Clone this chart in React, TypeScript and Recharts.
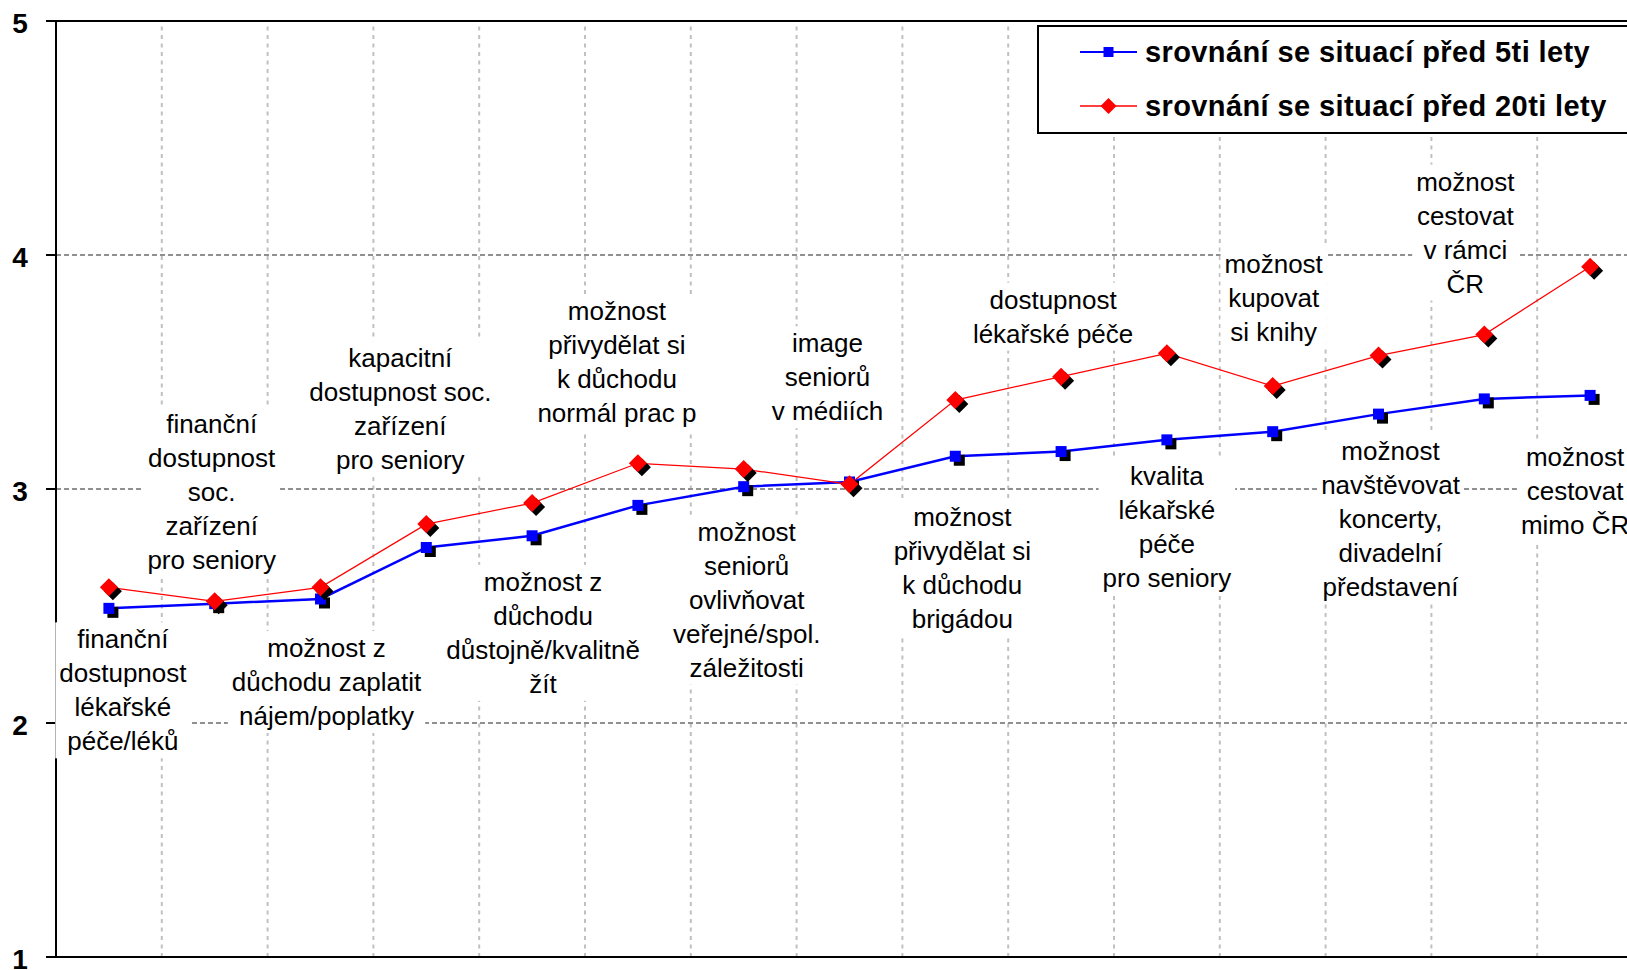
import React from 'react';
import { LineChart, Line, XAxis, YAxis, ReferenceLine, Legend, LabelList } from 'recharts';

// popisky kategorií (řádky textu)
const categories: string[][] = [
  ['finanční', 'dostupnost', 'lékařské', 'péče/léků'],
  ['finanční', 'dostupnost', 'soc.', 'zařízení', 'pro seniory'],
  ['možnost z', 'důchodu zaplatit', 'nájem/poplatky'],
  ['kapacitní', 'dostupnost soc.', 'zařízení', 'pro seniory'],
  ['možnost z', 'důchodu', 'důstojně/kvalitně', 'žít'],
  ['možnost', 'přivydělat si', 'k důchodu', 'normál prac p'],
  ['možnost', 'seniorů', 'ovlivňovat', 'veřejné/spol.', 'záležitosti'],
  ['image', 'seniorů', 'v médiích'],
  ['možnost', 'přivydělat si', 'k důchodu', 'brigádou'],
  ['dostupnost', 'lékařské péče'],
  ['kvalita', 'lékařské', 'péče', 'pro seniory'],
  ['možnost', 'kupovat', 'si knihy'],
  ['možnost', 'navštěvovat', 'koncerty,', 'divadelní', 'představení'],
  ['možnost', 'cestovat', 'v rámci', 'ČR'],
  ['možnost', 'cestovat', 'mimo ČR'],
];

const seriesNames = ['srovnání se situací před 5ti lety', 'srovnání se situací před 20ti lety'];

const before5 = [2.49, 2.51, 2.53, 2.75, 2.8, 2.93, 3.01, 3.03, 3.14, 3.16, 3.21, 3.245, 3.32, 3.385, 3.4];
const before20 = [2.58, 2.52, 2.58, 2.85, 2.94, 3.11, 3.085, 3.02, 3.38, 3.48, 3.58, 3.44, 3.57, 3.66, 3.95];

const yTicks = [1, 2, 3, 4, 5];
const yGrid = [2, 3, 4];

// umístění popisků vůči bodu (ručně posunuté jako v Excelu)
const labelPlacement: { side: 'above' | 'below'; dx: number; gap: number }[] = [
  { side: 'below', dx: 14, gap: 31 },
  { side: 'above', dx: -3, gap: 41 },
  { side: 'below', dx: 6, gap: 49 },
  { side: 'above', dx: -26, gap: 64 },
  { side: 'below', dx: 11, gap: 46 },
  { side: 'above', dx: -21, gap: 50 },
  { side: 'below', dx: 3, gap: 45 },
  { side: 'above', dx: -22, gap: 73 },
  { side: 'below', dx: 7, gap: 61 },
  { side: 'above', dx: -8, gap: 43 },
  { side: 'below', dx: 0, gap: 36 },
  { side: 'above', dx: 1, gap: 54 },
  { side: 'below', dx: 12, gap: 37 },
  { side: 'above', dx: -19, gap: 51 },
  { side: 'below', dx: -15, gap: 62 },
];

const FONT = "'Liberation Sans', Arial, sans-serif";
const LABEL_SIZE = 26;
const LINE_H = 34;

const data = categories.map((_, i) => ({
  pos: i + 0.5,
  idx: i,
  five: before5[i],
  twenty: before20[i],
}));

const boundaries = categories.slice(1).map((_, i) => i + 1);

let ctx: CanvasRenderingContext2D | null = null;
const measure = (t: string) => {
  if (!ctx) ctx = document.createElement('canvas').getContext('2d');
  if (!ctx) return t.length * 13;
  ctx.font = `${LABEL_SIZE}px ${FONT}`;
  return ctx.measureText(t).width;
};

const makeLabel = (side: 'above' | 'below') => (props: any) => {
  const i = Number(props.value);
  const place = labelPlacement[i];
  if (!place || place.side !== side) return null;
  const lines = categories[i];
  const n = lines.length;
  const cx = props.x + place.dx;
  const firstY = side === 'below' ? props.y + place.gap : props.y - place.gap - (n - 1) * LINE_H;
  const w = Math.max(...lines.map(measure)) + 8;
  return (
    <g key={`lab-${side}-${i}`}>
      <rect x={cx - w / 2} y={firstY - LINE_H / 2} width={w} height={n * LINE_H} fill="#fff" />
      {lines.map((t, k) => (
        <text
          key={k}
          x={cx}
          y={firstY + k * LINE_H}
          textAnchor="middle"
          dominantBaseline="central"
          fontFamily={FONT}
          fontSize={LABEL_SIZE}
          fill="#000"
        >
          {t}
        </text>
      ))}
    </g>
  );
};

const SquareDot = (props: any) => {
  const { cx, cy, index } = props;
  const s = 11;
  return (
    <g key={`sq-${index}`}>
      <rect x={cx - s / 2 + 4} y={cy - s / 2 + 4} width={s} height={s} fill="#000" />
      <rect x={cx - s / 2} y={cy - s / 2} width={s} height={s} fill="#0000ff" />
    </g>
  );
};

const diamond = (x: number, y: number, r: number) => `M${x},${y - r}L${x + r},${y}L${x},${y + r}L${x - r},${y}Z`;

const DiamondDot = (props: any) => {
  const { cx, cy, index } = props;
  return (
    <g key={`dm-${index}`}>
      <path d={diamond(cx + 4, cy + 4, 9)} fill="#000" />
      <path d={diamond(cx, cy, 9)} fill="#ff0000" />
    </g>
  );
};

const YTick = (props: any) => {
  const { y, payload } = props;
  return (
    <text x={20} y={y + 2} textAnchor="middle" dominantBaseline="central" fontFamily={FONT} fontWeight="bold" fontSize={28} fill="#000">
      {payload.value}
    </text>
  );
};

const LegendBox = () => (
  <div
    style={{
      width: 640,
      height: 109,
      border: '2px solid #000',
      boxSizing: 'border-box',
      background: '#fff',
      position: 'relative',
      fontFamily: FONT,
      fontWeight: 'bold',
      fontSize: 29,
      letterSpacing: 0.4,
      color: '#000',
    }}
  >
    {seriesNames.map((name, i) => (
      <div key={name} style={{ position: 'absolute', left: 41, top: 25 + i * 54 - 20, height: 40, display: 'flex', alignItems: 'center', whiteSpace: 'nowrap' }}>
        <svg width={64} height={24} style={{ display: 'block' }}>
          <line x1={0} y1={12} x2={57} y2={12} stroke={i === 0 ? '#0000ff' : '#ff0000'} strokeWidth={i === 0 ? 2 : 1.5} />
          {i === 0 ? <rect x={23.5} y={7} width={10} height={10} fill="#0000ff" /> : <path d={diamond(28.5, 12, 8)} fill="#ff0000" />}
        </svg>
        <span style={{ marginLeft: 1 }}>{name}</span>
      </div>
    ))}
  </div>
);

export default function App() {
  return (
    <div style={{ position: 'fixed', left: 0, top: 0, width: 1627, height: 970, overflow: 'hidden', background: '#fff' }}>
      <LineChart width={1660} height={970} data={data} margin={{ top: 21, right: 17, bottom: 13, left: 0 }}>
        <XAxis
          type="number"
          dataKey="pos"
          domain={[0, categories.length]}
          ticks={boundaries}
          tick={false}
          tickLine={false}
          height={0}
          axisLine={false}
        />
        <YAxis
          domain={[1, 5]}
          ticks={yTicks}
          width={56}
          tickSize={10}
          tickLine={{ stroke: '#000', strokeWidth: 2 }}
          axisLine={{ stroke: '#000', strokeWidth: 2 }}
          tick={<YTick />}
        />
        {boundaries.map((b) => (
          <ReferenceLine key={`vx-${b}`} x={b} stroke="#c0c0c0" strokeWidth={2} strokeDasharray="4 4.5" />
        ))}
        {yGrid.map((v) => (
          <ReferenceLine key={`hy-${v}`} y={v} stroke="#909090" strokeWidth={2} strokeDasharray="5 3" />
        ))}
        <ReferenceLine y={5} stroke="#000" strokeWidth={2} />
        <ReferenceLine y={1} stroke="#000" strokeWidth={2} />
        <Legend
          layout="vertical"
          align="center"
          verticalAlign="middle"
          wrapperStyle={{ top: 25, left: 1037, width: 640 }}
          content={<LegendBox />}
        />
        <Line
          type="linear"
          dataKey="five"
          name={seriesNames[0]}
          stroke="#0000ff"
          strokeWidth={2.5}
          dot={SquareDot}
          isAnimationActive={false}
        >
          <LabelList dataKey="idx" content={makeLabel('below')} />
        </Line>
        <Line
          type="linear"
          dataKey="twenty"
          name={seriesNames[1]}
          stroke="#ff0000"
          strokeWidth={1.25}
          dot={DiamondDot}
          isAnimationActive={false}
        >
          <LabelList dataKey="idx" content={makeLabel('above')} />
        </Line>
      </LineChart>
    </div>
  );
}
